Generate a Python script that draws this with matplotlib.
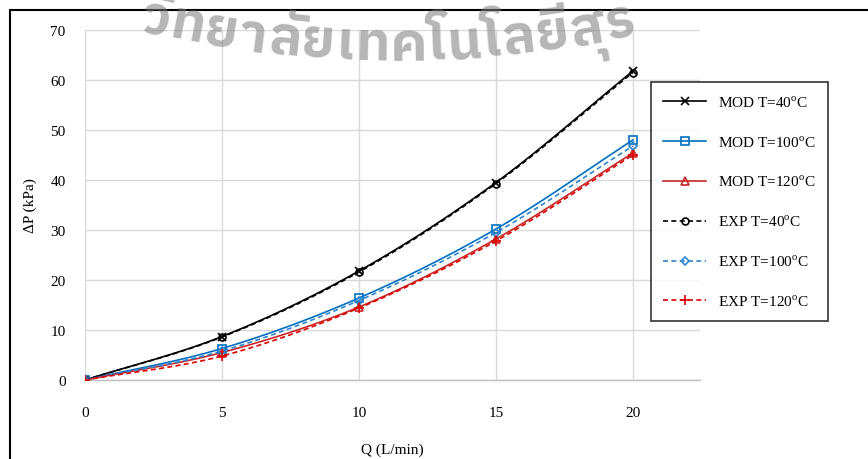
import numpy as np
import matplotlib
matplotlib.use("Agg")
import matplotlib.pyplot as plt
from matplotlib.patches import Rectangle
from matplotlib import font_manager
from matplotlib.ft2font import FT2Font

# Flow rate (L/min)
q = [0, 5, 10, 15, 20]

# Pressure drop (kPa): model and experiment at three temperatures
mod_40 = [0, 8.7, 21.8, 39.5, 61.8]
mod_100 = [0, 6.3, 16.4, 30.2, 48.0]
mod_120 = [0, 5.5, 14.6, 28.2, 45.4]
exp_40 = [0, 8.6, 21.6, 39.3, 61.5]
exp_100 = [0, 5.8, 15.9, 29.5, 46.8]
exp_120 = [0, 4.8, 14.4, 27.8, 45.0]

labels = ["MOD T=40$^{\\mathregular{o}}$C", "MOD T=100$^{\\mathregular{o}}$C",
          "MOD T=120$^{\\mathregular{o}}$C", "EXP T=40$^{\\mathregular{o}}$C",
          "EXP T=100$^{\\mathregular{o}}$C", "EXP T=120$^{\\mathregular{o}}$C"]

x_ticks = [0, 5, 10, 15, 20]
y_ticks = [0, 10, 20, 30, 40, 50, 60, 70]

plt.rcParams["font.family"] = ["Liberation Serif", "DejaVu Serif"]
plt.rcParams["mathtext.fontset"] = "custom"
plt.rcParams["mathtext.rm"] = "Liberation Serif"


def smooth(xs, ys, n=30):
    """Catmull-Rom curve through the points (spreadsheet-style smoothed line)."""
    xs = np.asarray(xs, float)
    ys = np.asarray(ys, float)
    px = np.concatenate([[2 * xs[0] - xs[1]], xs, [2 * xs[-1] - xs[-2]]])
    py = np.concatenate([[2 * ys[0] - ys[1]], ys, [2 * ys[-1] - ys[-2]]])
    ox, oy = [], []
    t = np.linspace(0, 1, n)
    for i in range(1, len(px) - 2):
        p0x, p1x, p2x, p3x = px[i - 1:i + 3]
        p0y, p1y, p2y, p3y = py[i - 1:i + 3]
        c1x, c1y = p1x + (p2x - p0x) / 6, p1y + (p2y - p0y) / 6
        c2x, c2y = p2x - (p3x - p1x) / 6, p2y - (p3y - p1y) / 6
        bx = (1 - t) ** 3 * p1x + 3 * (1 - t) ** 2 * t * c1x + 3 * (1 - t) * t ** 2 * c2x + t ** 3 * p2x
        by = (1 - t) ** 3 * p1y + 3 * (1 - t) ** 2 * t * c1y + 3 * (1 - t) * t ** 2 * c2y + t ** 3 * p2y
        ox.extend(bx[:-1] if i < len(px) - 3 else bx)
        oy.extend(by[:-1] if i < len(px) - 3 else by)
    return np.array(ox), np.array(oy)


W, H = 868, 460
fig = plt.figure(figsize=(W / 100, H / 100), dpi=100)
ax = fig.add_axes([85 / W, 1 - 381 / H, (700 - 85) / W, (381 - 31) / H])

series = [
    (mod_40, "#000000", "-", "x", 6, "none"),
    (mod_100, "#0070C0", "-", "s", 6, "none"),
    (mod_120, "#C62828", "-", "^", 6, "none"),
    (exp_40, "#000000", (0, (3, 2)), "o", 5, "none"),
    (exp_100, "#2E86D0", (0, (3, 2)), "D", 4, "none"),
    (exp_120, "#E00000", (0, (3, 2)), "+", 7, "none"),
]

handles = []
for (ys, col, ls, mk, ms, mfc), lab in zip(series, labels):
    sx, sy = smooth(q, ys)
    ax.plot(sx, sy, color=col, linestyle=ls, linewidth=1.2, zorder=3)
    ax.plot(q, ys, linestyle="none", marker=mk, markersize=ms,
            markerfacecolor=mfc, markeredgecolor=col, markeredgewidth=1.2, zorder=4)
    h, = ax.plot([], [], color=col, linestyle=ls, linewidth=1.2, marker=mk,
                 markersize=ms, markerfacecolor=mfc, markeredgecolor=col,
                 markeredgewidth=1.2)
    handles.append(h)

ax.set_xlim(0, 22.45)
ax.set_ylim(0, 70)
ax.set_xticks(x_ticks)
ax.set_yticks(y_ticks)
ax.grid(True, color="#d9d9d9", linewidth=1.0, zorder=0)
ax.set_axisbelow(True)
for s in ["top", "right", "left"]:
    ax.spines[s].set_visible(False)
ax.spines["bottom"].set_color("#bfbfbf")
ax.spines["bottom"].set_linewidth(1.0)
ax.tick_params(length=0, labelsize=11, colors="#000000")
ax.tick_params(axis="y", pad=14)
ax.tick_params(axis="x", pad=19)

fig.text(392 / W, 1 - 450 / H, "Q (L/min)", fontsize=11, ha="center", va="center")
fig.text(30 / W, 1 - 206 / H, "\u0394P (kPa)", fontsize=11, ha="center",
         va="center", rotation=90)

leg = fig.legend(handles=handles, labels=labels, loc="upper left",
                 bbox_to_anchor=(651 / W, 1 - 83 / H), fontsize=11,
                 frameon=True, fancybox=False, edgecolor="#000000",
                 handlelength=2.8, labelspacing=1.6, borderpad=0.8,
                 handletextpad=0.8, borderaxespad=0)
leg.get_frame().set_linewidth(1.2)

# Outer chart-area frame
fig.patches.append(Rectangle((10 / W, -0.1), 1.2, 1 - 11 / H + 0.1,
                             transform=fig.transFigure, fill=False,
                             edgecolor="#000000", linewidth=1.5, zorder=10))

# Institutional watermark set along an arc, when a font with Thai glyphs exists
clusters = ["\u0e27\u0e34", "\u0e17", "\u0e22", "\u0e32", "\u0e25\u0e31", "\u0e22",
            "\u0e40", "\u0e17", "\u0e04", "\u0e42", "\u0e19", "\u0e42", "\u0e25",
            "\u0e22\u0e35", "\u0e2a\u0e38", "\u0e23"]


def thai_font_choice():
    found = []
    for f in font_manager.fontManager.ttflist:
        try:
            cmap = FT2Font(f.fname).get_charmap()
        except Exception:
            continue
        if all(ord(c) in cmap for c in "\u0e27\u0e17\u0e22\u0e32"):
            found.append(f)
    if not found:
        return None, None

    def rank(f):
        n = f.name.lower()
        score = 0
        if "sans" in n:
            score -= 4
        if "thai" in n:
            score -= 2
        if "looped" in n or "serif" in n:
            score += 3
        return score

    found.sort(key=rank)
    best = found[0]
    bold = any(f.name == best.name and f.weight in ("bold", 700) for f in found)
    return best.name, ("bold" if bold else "normal")


thai_font, thai_weight = thai_font_choice()
if thai_font:
    renderer = fig.canvas.get_renderer()
    tracking = 2.0
    cx, cy, radius = 395.0, (H - 61.0) + 1100.0, 1100.0
    phi = np.arcsin((138.0 - cx) / radius)
    for cl in clusters:
        probe = fig.text(0, 0, cl, fontsize=39, family=thai_font, weight=thai_weight)
        w = probe.get_window_extent(renderer).width + tracking
        probe.remove()
        x0 = cx + radius * np.sin(phi)
        y0 = cy - radius * np.cos(phi)
        dphi = w / radius
        fig.text(x0 / W, y0 / H, cl, fontsize=39, family=thai_font,
                 weight=thai_weight, color="#7a7a7a", alpha=0.55, ha="left",
                 va="baseline", rotation=np.degrees(phi + dphi / 2),
                 rotation_mode="anchor", zorder=20)
        phi += dphi

fig.savefig("out.png", dpi=100)
